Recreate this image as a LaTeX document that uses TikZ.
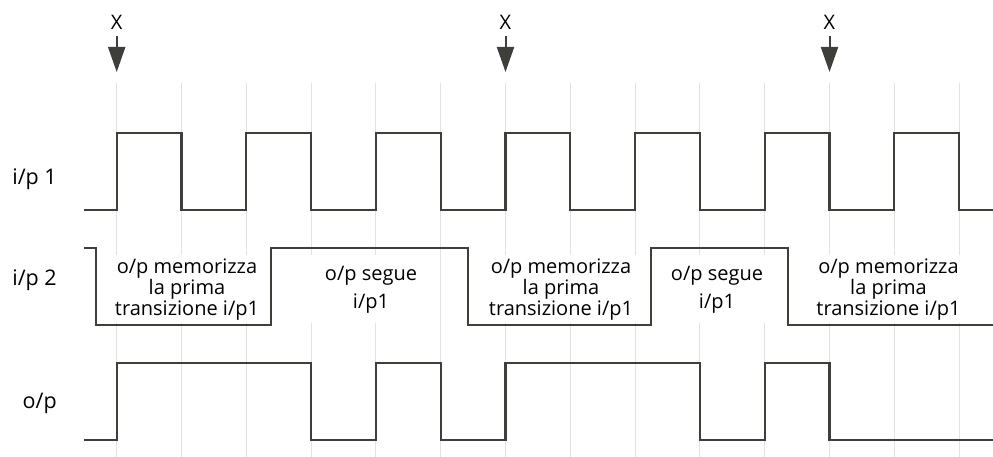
\documentclass[tikz,border=0pt]{standalone}
\usepackage{fontspec}
\setmainfont{Open Sans}
\usetikzlibrary{arrows.meta}
\definecolor{sig}{RGB}{62,62,58}
\definecolor{gridc}{RGB}{226,226,226}
\begin{document}
\begin{tikzpicture}[x=1pt,y=-1pt,
  sigline/.style={draw=sig,line width=2.3pt,line join=miter},
  gridline/.style={draw=gridc,line width=1pt},
  lbl/.style={font=\fontsize{21.5}{24}\selectfont,anchor=base east,inner sep=0pt},
  txt/.style={font=\fontsize{20}{21}\selectfont,anchor=base,inner sep=0pt},
  xarrow/.style={draw=sig,line width=2pt,shorten <=6.7pt,-{Triangle[width=17pt,length=25pt]},fill=sig},
  cover/.style={fill=white}
]
\useasboundingbox (0,0) rectangle (993,457);

% grid
\foreach \i in {0,...,13}
  \draw[gridline] ({116.7+64.8*\i},83) -- ({116.7+64.8*\i},457);

% white backgrounds behind the block texts
\fill[cover] (100,255) rectangle (268,323);
\fill[cover] (305,255) rectangle (425,323);
\fill[cover] (480,255) rectangle (645,323);
\fill[cover] (660,255) rectangle (770,323);
\fill[cover] (812,255) rectangle (966,323);

% row labels
\node[lbl] (l1) at (57,185) {i/p 1};
\node[lbl] (l2) at (57,285.7) {i/p 2};
\node[lbl] (l3) at (57,408) {o/p};

% block texts
\node[txt] (b1a) at (187,273) {o/p memorizza};
\node[txt] (b1b) at (187,294) {la prima};
\node[txt] (b1c) at (187,315) {transizione i/p1};
\node[txt] (b2a) at (371,280) {o/p segue};
\node[txt] (b2b) at (371,308) {i/p1};
\node[txt] (b3a) at (561,273) {o/p memorizza};
\node[txt] (b3b) at (561,294) {la prima};
\node[txt] (b3c) at (561,315) {transizione i/p1};
\node[txt] (b4a) at (717,280) {o/p segue};
\node[txt] (b4b) at (717,308) {i/p1};
\node[txt] (b5a) at (888.5,273) {o/p memorizza};
\node[txt] (b5b) at (888.5,294) {la prima};
\node[txt] (b5c) at (888.5,315) {transizione i/p1};

% i/p 1
\draw[sigline] (84,210) -- (116.7,210) -- (116.7,133) -- (181.5,133) -- (181.5,210)
  -- (246.3,210) -- (246.3,133) -- (311.1,133) -- (311.1,210)
  -- (375.9,210) -- (375.9,133) -- (440.7,133) -- (440.7,210)
  -- (505.5,210) -- (505.5,133) -- (570.3,133) -- (570.3,210)
  -- (635.1,210) -- (635.1,133) -- (699.9,133) -- (699.9,210)
  -- (764.7,210) -- (764.7,133) -- (829.5,133) -- (829.5,210)
  -- (894.3,210) -- (894.3,133) -- (959.1,133) -- (959.1,210) -- (993,210);
\draw[draw=sig,line width=2.8pt] (862,210) -- (894.3,210);

% i/p 2
\draw[sigline] (84,248) -- (96,248) -- (96,325) -- (271,325) -- (271,248)
  -- (468,248) -- (468,325) -- (651,325) -- (651,248) -- (788,248) -- (788,325) -- (993,325);

% o/p
\draw[sigline] (84,440) -- (116.7,440) -- (116.7,363) -- (311.1,363) -- (311.1,440)
  -- (375.9,440) -- (375.9,363) -- (440.7,363) -- (440.7,440)
  -- (505.5,440) -- (505.5,363) -- (699.9,363) -- (699.9,440)
  -- (764.7,440) -- (764.7,363) -- (829.5,363) -- (829.5,440) -- (993,440);

% X markers
\node[txt] (x1) at (116.7,29.3) {X};
\node[txt] (x2) at (505.5,29.3) {X};
\node[txt] (x3) at (829.5,29.3) {X};
\coordinate (t1) at (116.7,72);
\coordinate (t2) at (505.5,72);
\coordinate (t3) at (829.5,72);
\draw[xarrow] (x1.south) -- (t1);
\draw[xarrow] (x2.south) -- (t2);
\draw[xarrow] (x3.south) -- (t3);
\end{tikzpicture}
\end{document}
